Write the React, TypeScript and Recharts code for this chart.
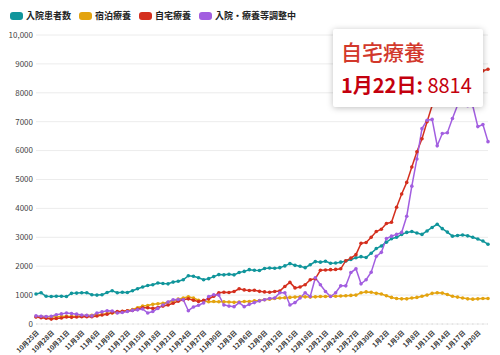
import React from 'react';
import { LineChart, Line, XAxis, YAxis, CartesianGrid, Tooltip, Legend } from 'recharts';

const dates = [
  '10月25日', '10月26日', '10月27日', '10月28日', '10月29日', '10月30日', '10月31日',
  '11月1日', '11月2日', '11月3日', '11月4日', '11月5日', '11月6日', '11月7日', '11月8日', '11月9日', '11月10日',
  '11月11日', '11月12日', '11月13日', '11月14日', '11月15日', '11月16日', '11月17日', '11月18日', '11月19日', '11月20日',
  '11月21日', '11月22日', '11月23日', '11月24日', '11月25日', '11月26日', '11月27日', '11月28日', '11月29日', '11月30日',
  '12月1日', '12月2日', '12月3日', '12月4日', '12月5日', '12月6日', '12月7日', '12月8日', '12月9日', '12月10日',
  '12月11日', '12月12日', '12月13日', '12月14日', '12月15日', '12月16日', '12月17日', '12月18日', '12月19日', '12月20日',
  '12月21日', '12月22日', '12月23日', '12月24日', '12月25日', '12月26日', '12月27日', '12月28日', '12月29日', '12月30日', '12月31日',
  '1月1日', '1月2日', '1月3日', '1月4日', '1月5日', '1月6日', '1月7日', '1月8日', '1月9日', '1月10日',
  '1月11日', '1月12日', '1月13日', '1月14日', '1月15日', '1月16日', '1月17日', '1月18日', '1月19日', '1月20日',
  '1月21日', '1月22日',
];

const inpatients = [
  1040, 1080, 960, 950, 960, 960, 950, 1060, 1070, 1080,
  1080, 1010, 1000, 1010, 1090, 1150, 1080, 1100, 1090, 1150,
  1220, 1280, 1330, 1360, 1420, 1400, 1390, 1450, 1480, 1530,
  1670, 1650, 1600, 1530, 1570, 1640, 1710, 1700, 1720, 1700,
  1780, 1820, 1880, 1860, 1850, 1920, 1940, 1930, 1950, 2010,
  2090, 2030, 2000, 1950, 2050, 2160, 2140, 2170, 2100, 2110,
  2140, 2180, 2230, 2290, 2330, 2300, 2450, 2610, 2700, 2830,
  2950, 3000, 3100, 3170, 3200, 3150, 3100, 3220, 3340, 3450,
  3300, 3180, 3040, 3060, 3080, 3050, 3000, 2940, 2870, 2760,
];

const hotel = [
  250, 255, 250, 245, 255, 260, 265, 260, 270, 280,
  290, 300, 310, 330, 360, 380, 400, 430, 460, 500,
  560, 620, 640, 680, 700, 720, 750, 780, 860, 900,
  940, 900, 820, 790, 770, 780, 770, 770, 760, 750,
  760, 780, 780, 800, 810, 840, 860, 880, 900, 910,
  920, 930, 940, 940, 930, 940, 950, 950, 960, 960,
  970, 980, 990, 1000, 1080, 1110, 1100, 1060, 1040, 980,
  920, 880, 870, 870, 900, 920, 960, 1000, 1060, 1080,
  1070, 1020, 960, 930, 900, 870, 860, 870, 880, 880,
];

const home = [
  240, 220, 200, 170, 190, 210, 240, 230, 240, 250,
  250, 255, 280, 310, 340, 390, 430, 440, 460, 470,
  520, 560, 560, 540, 570, 620, 660, 720, 790, 840,
  870, 820, 780, 820, 870, 960, 1080, 1100, 1090, 1125,
  1220, 1180, 1160, 1170, 1130, 1110, 1100, 1125, 1140, 1300,
  1440, 1250, 1280, 1360, 1530, 1570, 1860, 1870, 1880, 1890,
  1910, 2190, 2280, 2400, 2790, 2820, 3000, 3200, 3280, 3480,
  3520, 4040, 4500, 4900, 5430, 5960, 6410, 7000, 7560, 7900,
  8100, 8250, 8350, 8450, 8500, 8600, 8650, 8700, 8760, 8814,
];

const adjusting = [
  280, 270, 260, 270, 320, 350, 380, 360, 340, 310,
  300, 280, 380, 420, 460, 450, 380, 400, 430, 470,
  490, 520, 380, 430, 540, 660, 760, 840, 850, 840,
  460, 590, 650, 730, 950, 1010, 1000, 660, 620, 600,
  740, 600, 680, 740, 800, 840, 880, 900, 1080, 1080,
  660, 740, 900, 1080, 950, 1600, 1360, 1125, 950, 1080,
  1320, 1320, 1780, 1910, 1390, 1530, 1790, 2340, 2480, 2960,
  3040, 3100, 3170, 3730, 4770, 5710, 6760, 7050, 7080, 6170,
  6590, 6620, 7110, 7570, 7900, 7550, 7550, 6830, 6900, 6310,
];

const yTicks = [0, 1000, 2000, 3000, 4000, 5000, 6000, 7000, 8000, 9000, 10000];

const series = [
  { key: 'inpatients', name: '入院患者数', color: '#10959b' },
  { key: 'hotel', name: '宿泊療養', color: '#e3a30f' },
  { key: 'home', name: '自宅療養', color: '#d42f1e' },
  { key: 'adjusting', name: '入院・療養等調整中', color: '#a25ee0' },
];

const data = dates.map((date, i) => ({
  date,
  inpatients: inpatients[i],
  hotel: hotel[i],
  home: home[i],
  adjusting: adjusting[i],
}));

const FONT = '"Noto Sans CJK JP", "Noto Sans", sans-serif';

const renderLegend = () => (
  <div style={{ display: 'flex', alignItems: 'center', fontFamily: FONT, fontSize: 9, fontWeight: 700, color: '#222' }}>
    {series.map((s) => (
      <span key={s.key} style={{ display: 'flex', alignItems: 'center', marginRight: 8 }}>
        <span style={{ display: 'inline-block', width: 13, height: 8, borderRadius: 3, background: s.color, marginRight: 3 }} />
        {s.name}
      </span>
    ))}
  </div>
);

const HomeTooltip = ({ active, payload, label }: any) => {
  if (!active || !payload) return null;
  const item = payload.find((p: any) => p.dataKey === 'home');
  if (!item) return null;
  return (
    <div
      style={{
        width: 150,
        height: 78,
        boxSizing: 'border-box',
        background: '#fff',
        boxShadow: '0 1px 6px rgba(0,0,0,0.25)',
        padding: '10px 0 0 8px',
        borderRadius: 2,
        fontFamily: FONT,
        whiteSpace: 'nowrap',
      }}
    >
      <div style={{ color: '#d2382b', fontSize: 21, lineHeight: '24px', fontWeight: 500 }}>{item.name}</div>
      <div style={{ color: '#c4000e', fontSize: 20, lineHeight: '24px', marginTop: 10 }}>
        <span style={{ fontWeight: 700 }}>{label}:</span> {item.value}
      </div>
    </div>
  );
};

const App = () => {
  return (
    <div style={{ position: 'absolute', left: 0, top: 0, width: 500, height: 355, background: '#fff' }}>
      <LineChart width={500} height={355} data={data} margin={{ top: 22, right: 12, bottom: 0, left: 0 }}>
        <CartesianGrid vertical={false} stroke="#ececec" />
        <XAxis
          dataKey="date"
          interval={2}
          height={31}
          angle={-45}
          textAnchor="end"
          tickLine={false}
          tickMargin={0}
          axisLine={{ stroke: '#d8d8d8', strokeDasharray: '1.5 3.57' }}
          tick={{ fontSize: 6.5, fill: '#333', fontFamily: FONT, fontWeight: 600 }}
        />
        <YAxis
          domain={[0, 10000]}
          ticks={yTicks}
          width={36}
          axisLine={false}
          tickLine={false}
          tickSize={0}
          tickMargin={3}
          tickFormatter={(v: number) => (v === 10000 ? '10,000' : String(v))}
          tick={{ fontSize: 8, fill: '#444', fontFamily: FONT }}
        />
        <Legend verticalAlign="top" align="left" content={renderLegend} wrapperStyle={{ top: 9, left: 10 }} />
        {series.map((s) => (
          <Line
            key={s.key}
            type="linear"
            dataKey={s.key}
            name={s.name}
            stroke={s.color}
            strokeWidth={1.5}
            dot={{ r: 1.8, fill: s.color, stroke: s.color, strokeWidth: 0 }}
            activeDot={false}
            isAnimationActive={false}
          />
        ))}
        <Tooltip
          content={<HomeTooltip />}
          defaultIndex={89}
          active
          cursor={false}
          position={{ x: 333, y: 29 }}
          isAnimationActive={false}
          wrapperStyle={{ outline: 'none' }}
        />
      </LineChart>
    </div>
  );
};

export default App;
